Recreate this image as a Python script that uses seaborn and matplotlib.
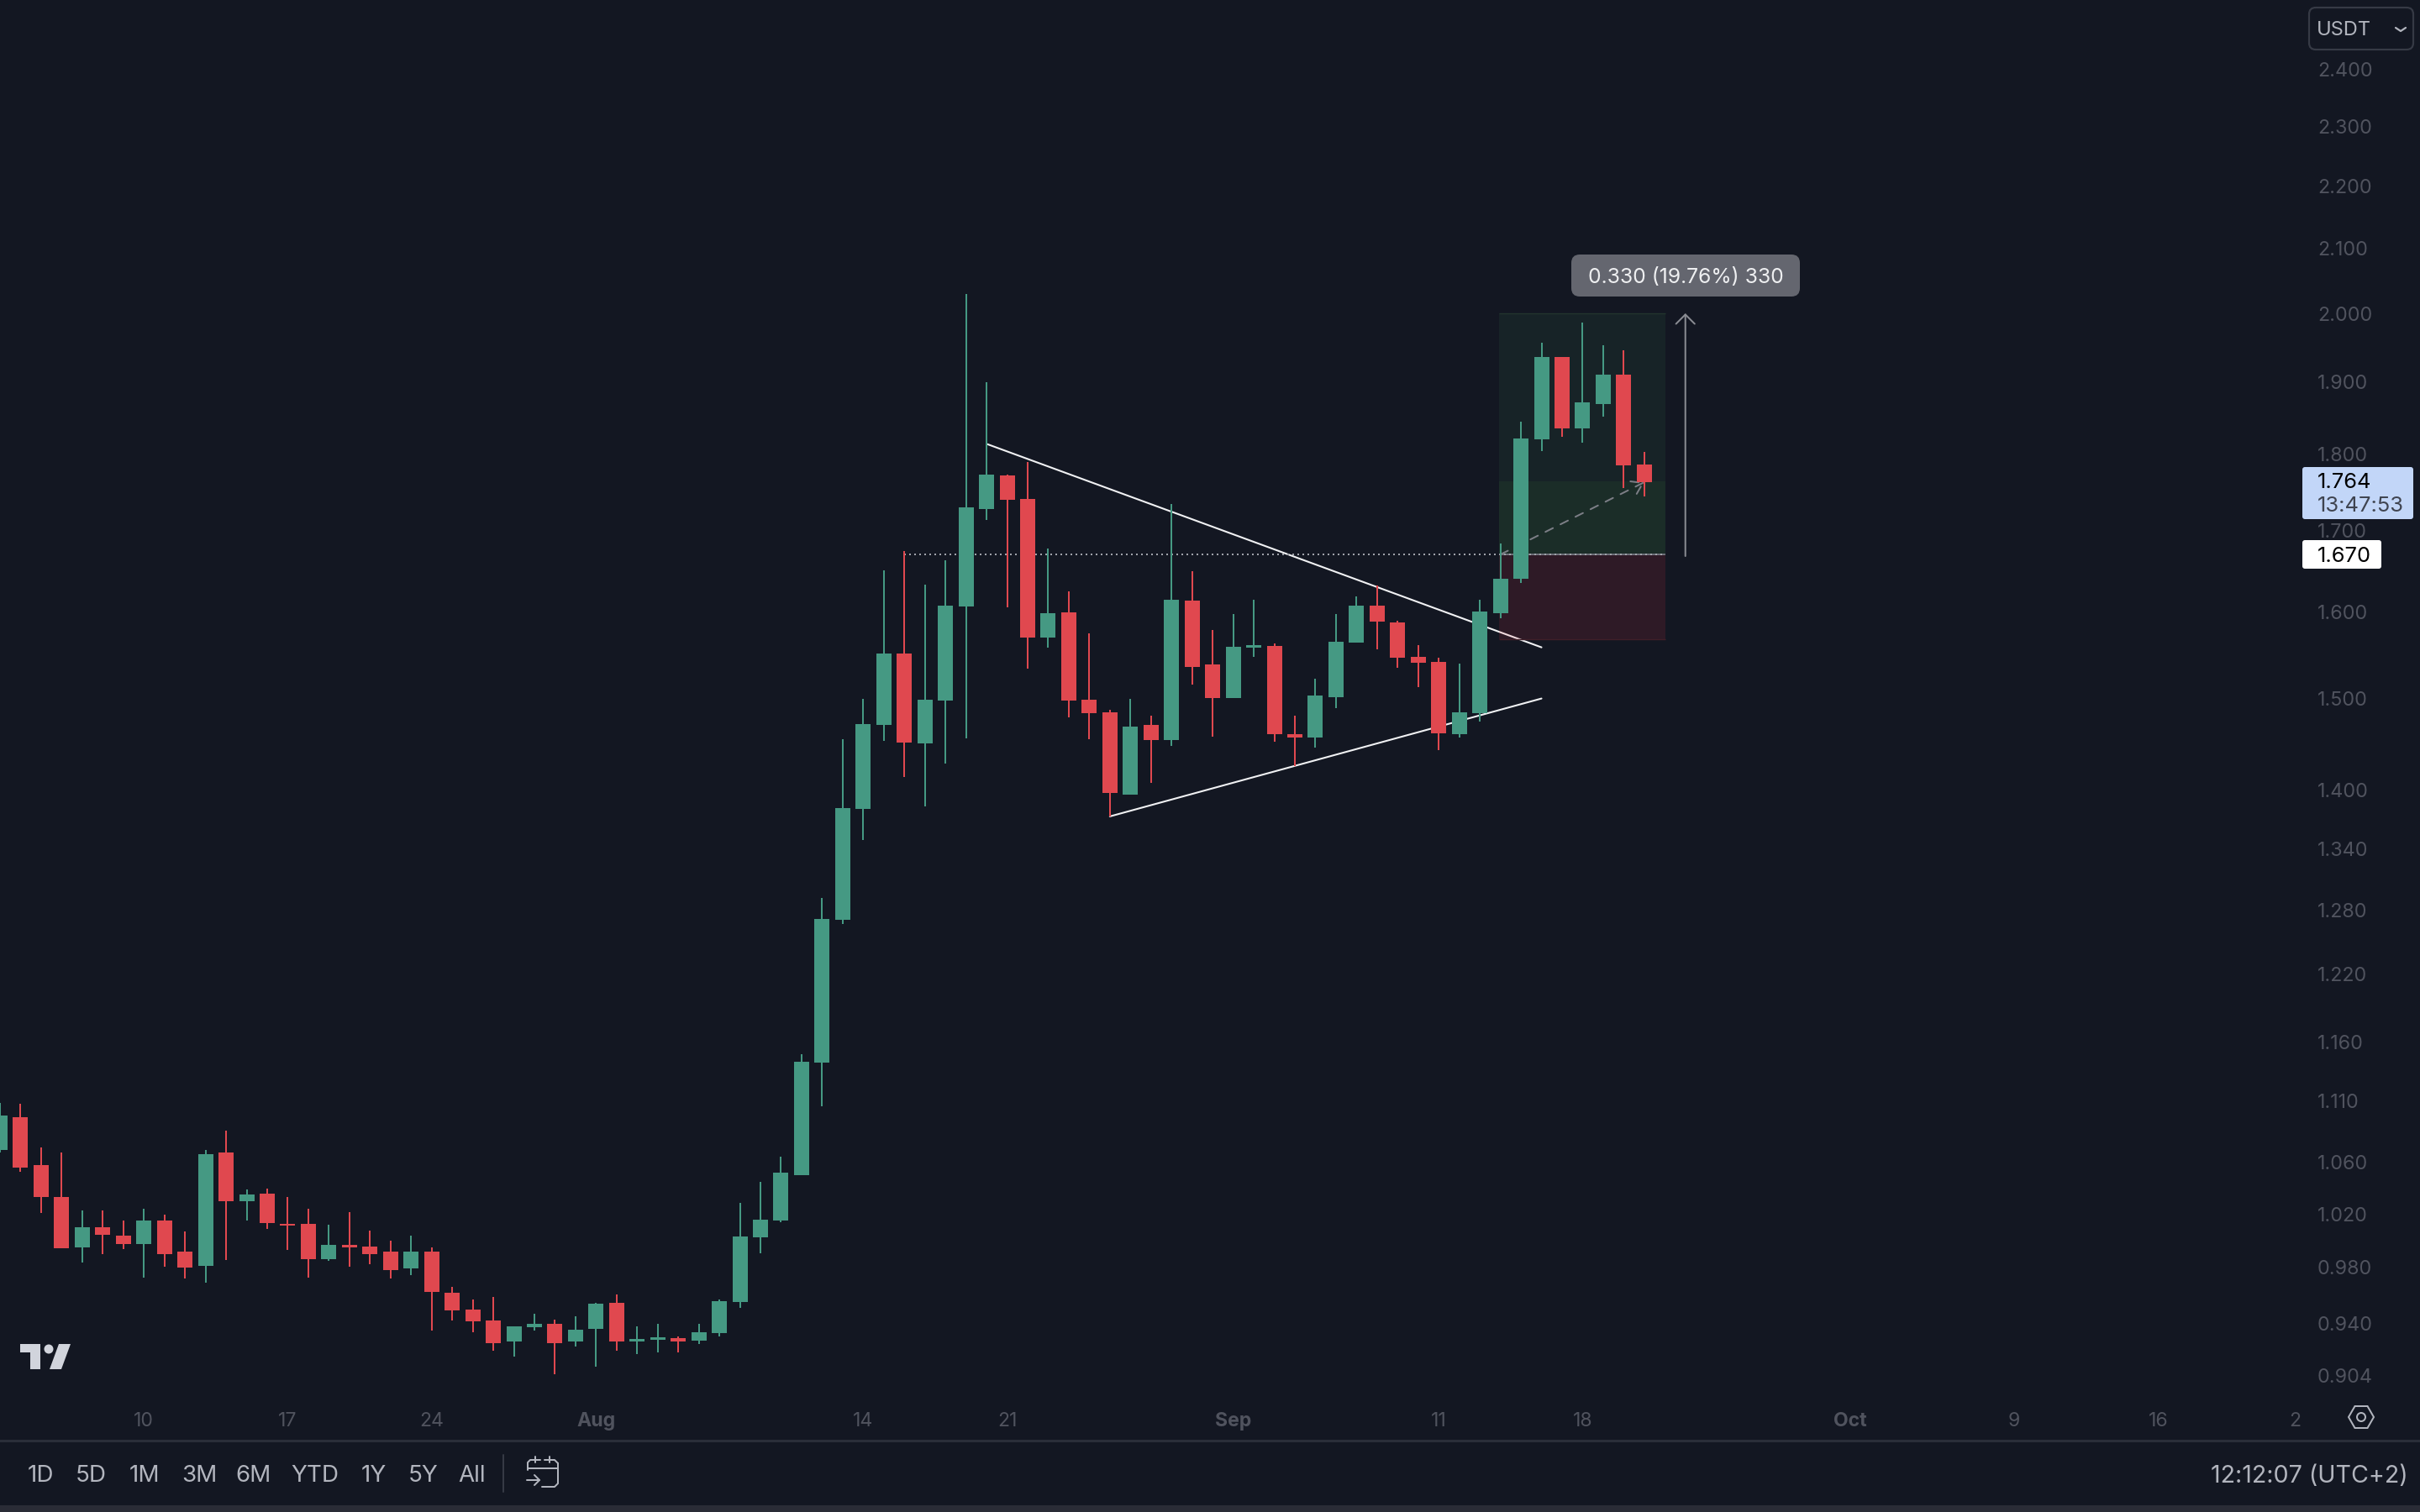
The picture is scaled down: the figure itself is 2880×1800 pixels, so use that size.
import matplotlib
matplotlib.use('Agg')
import matplotlib.pyplot as plt
import numpy as np
import pandas as pd
import seaborn as sns
from matplotlib.lines import Line2D
from matplotlib.patches import Circle, FancyBboxPatch, Polygon, RegularPolygon, Rectangle
from matplotlib.ticker import NullLocator
from matplotlib.transforms import IdentityTransform

# daily candles (first one is cut by the left edge)
opens = [1.0697, 1.0962, 1.0577, 1.0327, 0.9945, 1.0096, 1.0033, 0.9970, 1.0147, 0.9914,
         0.9809, 1.0677, 1.0295, 1.0353, 1.0122, 1.0122, 0.9859, 0.9964, 0.9951, 0.9914,
         0.9791, 0.9914, 0.9613, 0.9494, 0.9417, 0.9270, 0.9369, 0.9393, 0.9270, 0.9357,
         0.9541, 0.9270, 0.9282, 0.9293, 0.9276, 0.9328, 0.9547, 1.0022, 1.0148, 1.0498,
         1.1418, 1.2708, 1.3808, 1.4703, 1.5507, 1.4498, 1.4973, 1.6064, 1.7276, 1.7716,
         1.7406, 1.5696, 1.5994, 1.4982, 1.4840, 1.3955, 1.4703, 1.4534, 1.6132, 1.5382,
         1.4999, 1.5578, 1.5595, 1.4600, 1.4563, 1.5011, 1.5634, 1.6074, 1.5872, 1.5468,
         1.5412, 1.4600, 1.4831, 1.5985, 1.6398, 1.8201, 1.9357, 1.8351, 1.8688, 1.9104,
         1.7862]
highs = [1.1085, 1.1073, 1.0717, 1.0677, 1.0224, 1.0224, 1.0147, 1.0237, 1.0192, 1.0064,
         1.0697, 1.0853, 1.0386, 1.0392, 1.0327, 1.0237, 1.0115, 1.0212, 1.0071, 0.9995,
         1.0033, 0.9945, 0.9656, 0.9565, 0.9583, 0.9375, 0.9464, 0.9422, 0.9446, 0.9541,
         0.9601, 0.9375, 0.9393, 0.9305, 0.9393, 0.9565, 1.0282, 1.0445, 1.0645, 1.1494,
         1.2917, 1.4546, 1.4989, 1.6502, 1.6741, 1.6328, 1.6628, 2.0292, 1.8998, 1.7726,
         1.7896, 1.6773, 1.6246, 1.5744, 1.4869, 1.4989, 1.4803, 1.7338, 1.6494, 1.5783,
         1.5971, 1.6142, 1.5625, 1.4803, 1.5218, 1.5971, 1.6182, 1.6314, 1.5890, 1.5603,
         1.5460, 1.5390, 1.6142, 1.6839, 1.8442, 1.9565, 1.9357, 1.9862, 1.9528, 1.9454,
         1.8031]
lows = [1.0679, 1.0524, 1.0205, 0.9939, 0.9834, 0.9896, 0.9933, 0.9723, 0.9803, 0.9717,
        0.9686, 0.9852, 1.0147, 1.0083, 0.9926, 0.9723, 0.9846, 0.9803, 0.9822, 0.9717,
        0.9741, 0.9346, 0.9417, 0.9334, 0.9206, 0.9165, 0.9346, 0.9046, 0.9235, 0.9097,
        0.9206, 0.9183, 0.9195, 0.9195, 0.9253, 0.9305, 0.9505, 0.9902, 1.0136, 1.0498,
        1.1054, 1.2669, 1.3490, 1.4525, 1.4141, 1.3831, 1.4284, 1.4554, 1.7135, 1.6051,
        1.5334, 1.5578, 1.4786, 1.4546, 1.3730, 1.3955, 1.4077, 1.4474, 1.5150, 1.4571,
        1.4999, 1.5468, 1.4517, 1.4257, 1.4453, 1.4885, 1.5634, 1.5555, 1.5342, 1.5121,
        1.4424, 1.4563, 1.4740, 1.5921, 1.6348, 1.8041, 1.8236, 1.8156, 1.8512, 1.7550,
        1.7440]
closes = [1.0976, 1.0559, 1.0327, 0.9939, 1.0096, 1.0039, 0.9970, 1.0147, 0.9896, 0.9797,
          1.0663, 1.0295, 1.0347, 1.0128, 1.0109, 0.9859, 0.9964, 0.9945, 0.9896, 0.9778,
          0.9914, 0.9619, 0.9488, 0.9411, 0.9258, 0.9375, 0.9393, 0.9258, 0.9352, 0.9535,
          0.9270, 0.9287, 0.9299, 0.9270, 0.9334, 0.9553, 1.0027, 1.0155, 1.0518, 1.1427,
          1.2715, 1.3817, 1.4712, 1.5507, 1.4509, 1.4982, 1.6074, 1.7298, 1.7726, 1.7398,
          1.5696, 1.5985, 1.4973, 1.4831, 1.3971, 1.4681, 1.4534, 1.6142, 1.5351, 1.4999,
          1.5586, 1.5603, 1.4600, 1.4563, 1.5028, 1.5642, 1.6074, 1.5882, 1.5460, 1.5398,
          1.4608, 1.4840, 1.6002, 1.6397, 1.8214, 1.9357, 1.8351, 1.8712, 1.9104, 1.7851,
          1.7627]

price_ticks = [2.4, 2.3, 2.2, 2.1, 2.0, 1.9, 1.8, 1.7, 1.6, 1.5, 1.4, 1.34, 1.28, 1.22,
               1.16, 1.11, 1.06, 1.02, 0.98, 0.94, 0.904]
price_labels = ['2.400', '2.300', '2.200', '2.100', '2.000', '1.900', '1.800', '1.700',
                '1.600', '1.500', '1.400', '1.340', '1.280', '1.220', '1.160', '1.110',
                '1.060', '1.020', '0.980', '0.940', '0.904']
date_ticks = [7, 14, 21, 29, 42, 49, 60, 70, 77, 90, 98, 105, 111.65]
date_labels = ['10', '17', '24', 'Aug', '14', '21', 'Sep', '11', '18', 'Oct', '9', '16', '2']
month_labels = ['Aug', 'Sep', 'Oct']
range_buttons = ['1D', '5D', '1M', '3M', '6M', 'YTD', '1Y', '5Y', 'All']

# drawing tools on the chart, as (day, price)
upper_line_days, upper_line_prices = [48, 75], [1.814, 1.558]
lower_line_days, lower_line_prices = [54, 75], [1.373, 1.4995]
entry_price, current_price, target_price, stop_price = 1.670, 1.7635, 2.000, 1.5678
box_left, box_right = 72.93, 81.03

BG = '#131722'
UP = '#459983'
DOWN = '#e0484f'
DIM = '#50535e'
SOFT = '#b2b5be'
W, H = 2880, 1800

sns.set_theme(style='dark', rc={'axes.facecolor': BG, 'figure.facecolor': BG})
plt.rcParams['font.family'] = ['Inter', 'DejaVu Sans']

fig = plt.figure(figsize=(14.4, 9), dpi=200)
ax = fig.add_axes([0, (H - 1665) / H, 2740 / W, 1665 / H])
ax.set_yscale('log')

candles = pd.DataFrame({'day': range(len(opens)), 'open': opens, 'high': highs,
                        'low': lows, 'close': closes})
candles['dir'] = np.where(candles['close'] > candles['open'], 'up', 'down')
wicks = candles.melt(id_vars=['day', 'dir'], value_vars=['high', 'low'], value_name='price')
bodies = candles.melt(id_vars=['day', 'dir'], value_vars=['open', 'close'], value_name='price')
palette = {'up': UP, 'down': DOWN}

# trend lines sit under the position box, the box under the candles
ax.plot(upper_line_days, upper_line_prices, color='#f0f1f3', lw=0.75, zorder=1)
ax.plot(lower_line_days, lower_line_prices, color='#f0f1f3', lw=0.75, zorder=1)

ax.fill_between([box_left, box_right], current_price, target_price, color='#3c8a50', alpha=0.11, lw=0, zorder=2)
ax.fill_between([box_left, box_right], entry_price, current_price, color='#4caf50', alpha=0.15, lw=0, zorder=2)
ax.fill_between([box_left, box_right], stop_price, entry_price, color='#f23645', alpha=0.125, lw=0, zorder=2)
ax.hlines(target_price, box_left, box_right, color='#22352d', lw=0.5, zorder=2)
ax.hlines(stop_price, box_left, box_right, color='#3f1f29', lw=0.5, zorder=2)

ax.hlines(entry_price, box_left, box_right, color='#6d6f78', lw=0.72, zorder=3)
ax.hlines(entry_price, 44, box_right, color='#a0a3aa', lw=0.72, linestyles=[(0, (1, 2))], zorder=3)
ax.annotate('', xy=(80, 1.7627), xytext=(73, entry_price), zorder=3,
            arrowprops=dict(arrowstyle='->,head_length=0.45,head_width=0.3', color='#7c7e86', mutation_scale=10,
                            lw=0.72, ls=(0, (5, 5)), shrinkA=0, shrinkB=0))
ax.annotate('', xy=(82, target_price), xytext=(82, 1.668), zorder=3,
            arrowprops=dict(arrowstyle='->,head_length=0.4,head_width=0.4', color='#8a8c93', mutation_scale=10,
                            lw=0.72, shrinkA=0, shrinkB=0))

sns.lineplot(data=wicks, x='day', y='price', hue='dir', units='day', estimator=None,
             palette=palette, linewidth=0.72, legend=False, ax=ax, zorder=4,
             solid_capstyle='butt')
sns.lineplot(data=bodies, x='day', y='price', hue='dir', units='day', estimator=None,
             palette=palette, linewidth=6.48, legend=False, ax=ax, zorder=5,
             solid_capstyle='butt')

ax.set_xlim(0, 2740 / 24.46)
ax.set_ylim(0.8884, 2.528)
ax.yaxis.tick_right()
ax.set_yticks(price_ticks, labels=price_labels)
ax.yaxis.set_minor_locator(NullLocator())
ax.set_xticks(date_ticks, labels=date_labels)
ax.tick_params(axis='y', length=0, pad=6.5, labelsize=8.4, labelcolor=DIM)
ax.tick_params(axis='x', length=0, pad=5.8, labelsize=8.3, labelcolor=DIM)
for lab in ax.get_xticklabels():
    if lab.get_text() in month_labels:
        lab.set_fontweight('bold')
ax.set_xlabel('')
ax.set_ylabel('')
for sp in ax.spines.values():
    sp.set_visible(False)


# helpers for the TradingView chrome around the plot, in screen pixels from the top left
def px_text(x, y, s, ha='left', size=8.3, color=SOFT, **kw):
    fig.text(x / W, 1 - (y + 2.5) / H, s, ha=ha, va='center', fontsize=size, color=color, zorder=20, **kw)


def px_box(x0, y0, x1, y1, fc, ec='none', r=0, lw=0.0):
    if r:
        p = FancyBboxPatch((x0 + r, H - y1 + r), x1 - x0 - 2 * r, y1 - y0 - 2 * r,
                           boxstyle=f'round,pad={r},rounding_size={r}', fc=fc, ec=ec, lw=lw,
                           transform=IdentityTransform(), zorder=10)
    else:
        p = Rectangle((x0, H - y1), x1 - x0, y1 - y0, fc=fc, ec=ec, lw=lw,
                      transform=IdentityTransform(), zorder=10)
    fig.add_artist(p)


def px_line(xs, ys, color=SOFT, lw=0.72):
    fig.add_artist(Line2D(xs, [H - y for y in ys], color=color, lw=lw, zorder=11,
                          transform=IdentityTransform()))


# measure label
px_box(1870, 303, 2142, 353, '#64666f', r=10)
px_text(2006, 328, '0.330 (19.76%) 330', ha='center', size=8.9, color='#eeeff1')

# currency selector and price tags
px_box(2748, 9, 2872, 59, BG, ec='#363a45', r=8, lw=0.8)
px_text(2757, 33, 'USDT', size=8.5)
px_line([2851, 2857, 2863], [33, 37, 33], lw=0.8)
px_box(2740, 556, 2872, 618, '#c2d6f8', r=3)
px_text(2758, 572, '1.764', size=9.2, color='#000000')
px_text(2758, 600, '13:47:53', size=9.2, color='#3f4450')
px_box(2740, 643, 2834, 677, '#ffffff', r=3)
px_text(2758, 660, '1.670', size=9.2, color='#000000')

# bottom bar
px_box(0, 1714, W, 1717, '#2a2e39')
px_box(0, 1792, W, 1800, '#2a2c36')
button_x = [48, 108, 172, 237, 302, 375, 445, 504, 562]
for bx, label in zip(button_x, range_buttons):
    px_text(bx, 1755, label, ha='center', size=10)
px_line([599, 599], [1732, 1776], color='#363a45')
px_text(2866, 1755, '12:12:07 (UTC+2)', ha='right', size=10.3)

# calendar icon
px_line([664, 664, 660, 645], [1742, 1766, 1770, 1770])
px_line([643, 631, 628, 628], [1738, 1738, 1741, 1750])
px_line([648, 660, 664], [1738, 1738, 1742])
px_line([628, 664], [1748, 1748])
px_line([637, 637], [1734, 1741])
px_line([654, 654], [1734, 1741])
px_line([627, 642], [1762, 1762])
px_line([636, 642, 636], [1756, 1762, 1768])

# settings hexagon
fig.add_artist(RegularPolygon((2810, H - 1687), 6, radius=15, orientation=np.pi / 2, fc='none', ec=SOFT,
                              lw=0.72, transform=IdentityTransform(), zorder=11))
fig.add_artist(Circle((2810, H - 1687), 5, fc='none', ec=SOFT, lw=0.72,
                      transform=IdentityTransform(), zorder=11))

# TradingView logo
logo = '#d1d4dc'
fig.add_artist(Polygon([(24, H - 1600), (48, H - 1600), (48, H - 1630), (36, H - 1630), (36, H - 1610), (24, H - 1610)],
                       fc=logo, ec='none', transform=IdentityTransform(), zorder=11))
fig.add_artist(Circle((58, H - 1606), 5.5, fc=logo, ec='none', transform=IdentityTransform(), zorder=11))
fig.add_artist(Polygon([(70, H - 1600), (84, H - 1600), (73, H - 1630), (59, H - 1630)],
                       fc=logo, ec='none', transform=IdentityTransform(), zorder=11))

fig.savefig('out.png', dpi=200, facecolor=BG)
